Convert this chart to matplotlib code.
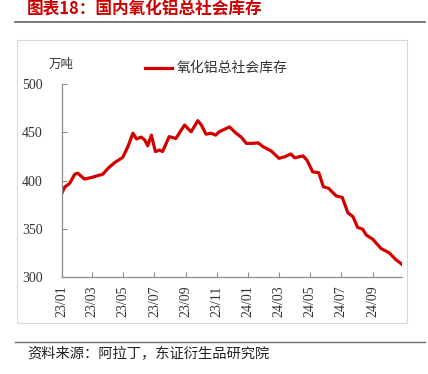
import matplotlib
matplotlib.use("Agg")
import matplotlib.pyplot as plt
import matplotlib.dates as mdates
from matplotlib.lines import Line2D
from matplotlib.patches import Rectangle
import pandas as pd

# 国内氧化铝总社会库存（万吨），读图估值
dates = ["2023-01-01", "2023-01-06", "2023-01-16", "2023-01-26", "2023-02-01",
         "2023-02-14", "2023-02-27", "2023-03-15", "2023-03-22", "2023-04-01",
         "2023-04-14", "2023-04-30", "2023-05-10", "2023-05-20", "2023-05-27",
         "2023-06-05", "2023-06-12", "2023-06-18", "2023-06-25", "2023-07-03",
         "2023-07-11", "2023-07-17", "2023-07-30", "2023-08-12", "2023-08-29",
         "2023-09-11", "2023-09-24", "2023-10-01", "2023-10-10", "2023-10-20",
         "2023-10-29", "2023-11-05", "2023-11-25", "2023-12-08", "2023-12-18",
         "2023-12-28", "2024-01-10", "2024-01-20", "2024-01-30", "2024-02-15",
         "2024-03-01", "2024-03-12", "2024-03-24", "2024-04-01", "2024-04-17",
         "2024-04-25", "2024-05-06", "2024-05-18", "2024-05-27", "2024-06-06",
         "2024-06-21", "2024-07-03", "2024-07-14", "2024-07-24", "2024-08-02",
         "2024-08-12", "2024-08-19", "2024-09-01", "2024-09-17", "2024-10-03",
         "2024-10-16", "2024-10-27"]
stock = [387, 393, 397, 406.5, 407.5,
         401.5, 403, 405.5, 406.5, 412.5,
         418.5, 424, 435, 449, 443,
         445, 442, 436, 447, 430,
         431.5, 430, 445.5, 443.5, 457.5,
         450.5, 462, 457.5, 448, 449,
         447, 450.5, 455.5, 449, 445,
         438.5, 438.5, 439, 435, 430.5,
         423, 424.5, 427.5, 423.5, 425.5,
         421, 409, 408, 393.5, 392,
         384, 382.5, 366.5, 362.5, 351.5,
         349.5, 343.5, 339, 329.5, 325,
         318, 313.5]
x_ticks = pd.date_range("2023-01-01", "2024-09-01", freq="2MS")
y_ticks = [300, 350, 400, 450, 500]

title = "图表18：国内氧化铝总社会库存"
series_name = "氧化铝总社会库存"
unit = "万吨"
source = "资料来源：阿拉丁，东证衍生品研究院"

cjk = ["Noto Sans CJK SC", "DejaVu Sans"]
serif = ["Liberation Serif", "DejaVu Serif"]
red = "#d40000"

fig = plt.figure(figsize=(4.28, 3.74), dpi=100)
W, H = 428, 374

# frame around the chart area
fig.patches.append(Rectangle((17 / W, 1 - 323 / H), 390 / W, 283 / H,
                             transform=fig.transFigure, fill=False,
                             edgecolor="#d9d9d9", linewidth=0.8))
# top and bottom rules
fig.add_artist(Line2D([15 / W, 425 / W], [1 - 22 / H] * 2, color="#707070", lw=1.3))
fig.add_artist(Line2D([15 / W, 425 / W], [1 - 342 / H] * 2, color="#707070", lw=1.0))

ax = fig.add_axes([62 / W, 1 - 277 / H, 340 / W, 193 / H])
ax.plot(pd.to_datetime(dates), stock, color=red, lw=2.3, solid_joinstyle="round")

ax.set_ylim(300, 500)
ax.set_yticks(y_ticks)
ax.set_xlim(pd.Timestamp("2023-01-01"), pd.Timestamp("2024-10-28"))
ax.set_xticks(x_ticks)
ax.xaxis.set_major_formatter(mdates.DateFormatter("%y/%m"))

for s in ["top", "right"]:
    ax.spines[s].set_visible(False)
for s in ["left", "bottom"]:
    ax.spines[s].set_color("#8c8c8c")
    ax.spines[s].set_linewidth(0.9)
ax.tick_params(direction="in", length=3.5, color="#8c8c8c", width=0.8)
ax.tick_params(axis="y", pad=14)
ax.tick_params(axis="x", rotation=90, pad=6)
for lab in ax.get_xticklabels() + ax.get_yticklabels():
    lab.set_fontfamily(serif)
    lab.set_fontsize(10)
    lab.set_color("#333333")

fig.text(27 / W, 1 - 10 / H, title, color="#cc0000", fontsize=12,
         fontweight="bold", family=cjk, va="center", ha="left")
fig.text(61 / W, 1 - 64 / H, unit, fontsize=9, family=cjk, color="#333333",
         va="center", ha="center")
fig.add_artist(Line2D([145 / W, 172 / W], [1 - 68 / H] * 2, color=red, lw=2.3))
fig.text(177 / W, 1 - 68 / H, series_name, fontsize=10, family=cjk,
         color="#333333", va="center", ha="left")
fig.text(27 / W, 1 - 353 / H, source, fontsize=10.3, family=cjk, color="#222222",
         va="center", ha="left")

fig.savefig("out.png", dpi=100)
